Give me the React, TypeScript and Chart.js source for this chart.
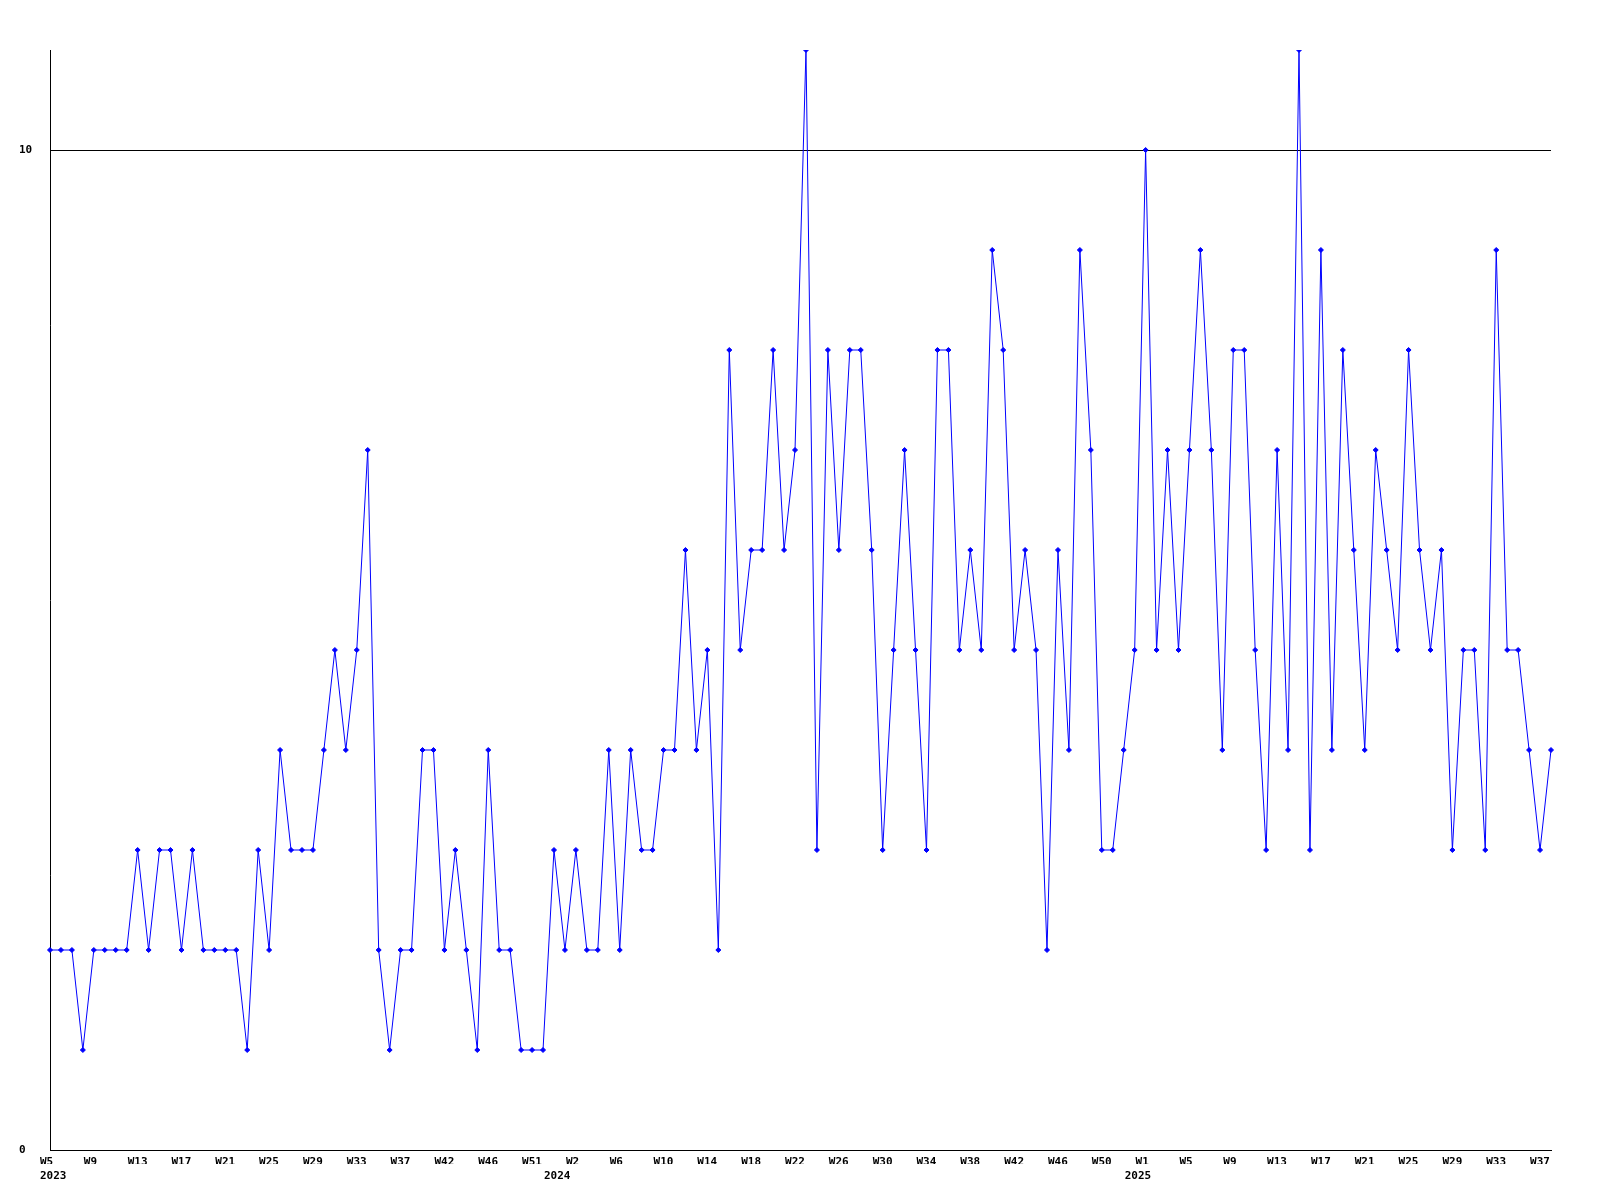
import React, { useEffect, useRef } from "react";
import { Chart, registerables } from "chart.js";

Chart.register(...registerables);

// Weekly values, 2023 W5 .. 2025 W38
const VALUES: number[] = [
  2, 2, 2, 1, 2, 2, 2, 2, 3, 2, 3, 3, 2, 3, 2, 2,
  2, 2, 1, 3, 2, 4, 3, 3, 3, 4, 5, 4, 5, 7, 2, 1,
  2, 2, 4, 4, 2, 3, 2, 1, 4, 2, 2, 1, 1, 1, 3, 2,
  3, 2, 2, 4, 2, 4, 3, 3, 4, 4, 6, 4, 5, 2, 8, 5,
  6, 6, 8, 6, 7, 11, 3, 8, 6, 8, 8, 6, 3, 5, 7, 5,
  3, 8, 8, 5, 6, 5, 9, 8, 5, 6, 5, 2, 6, 4, 9, 7,
  3, 3, 4, 5, 10, 5, 7, 5, 7, 9, 7, 4, 8, 8, 5, 3,
  7, 4, 11, 3, 9, 4, 8, 6, 4, 7, 6, 5, 8, 6, 5, 6,
  3, 5, 5, 3, 9, 5, 5, 4, 3, 4,
];

// Week tick labels, one every 4 points
const TICK_LABELS: string[] = [
  "W5", "W9", "W13", "W17", "W21", "W25", "W29", "W33", "W37", "W42", "W46", "W51",
  "W2", "W6", "W10", "W14", "W18", "W22", "W26", "W30", "W34", "W38", "W42", "W46", "W50",
  "W1", "W5", "W9", "W13", "W17", "W21", "W25", "W29", "W33", "W37",
];
const TICK_EVERY = 4;

const YEAR_LABELS: string[] = ["2023", "2024", "2025"];
const YEAR_POINT_INDEX: number[] = [0, 46, 99];

const Y_TICKS: number[] = [0, 10];

const CATEGORIES: string[] = VALUES.map((_, i) =>
  i % TICK_EVERY === 0 ? TICK_LABELS[i / TICK_EVERY] ?? "" : ""
);

const FONT = { family: "'DejaVu Sans Mono', 'Liberation Mono', monospace", size: 11, weight: "bold" as const };

export default function App() {
  const ref = useRef<HTMLCanvasElement | null>(null);

  useEffect(() => {
    if (!ref.current) return;
    const chart = new Chart(ref.current, {
      type: "line",
      data: {
        labels: CATEGORIES,
        datasets: [
          {
            data: VALUES,
            borderColor: "#0000ff",
            backgroundColor: "#0000ff",
            borderWidth: 1,
            pointStyle: "rectRot",
            pointRadius: 2.5,
            pointBorderWidth: 1,
            pointBorderColor: "#0000ff",
            pointBackgroundColor: "#0000ff",
            tension: 0,
            fill: false,
          },
        ],
      },
      options: {
        animation: false,
        responsive: false,
        devicePixelRatio: 1,
        layout: { padding: { left: 19, right: 49, top: 50, bottom: 0 } },
        plugins: {
          legend: { display: false },
          tooltip: { enabled: false },
          title: { display: false },
        },
        scales: {
          x: {
            type: "category",
            position: "bottom",
            weight: 0,
            offset: false,
            grid: { display: false, drawTicks: false },
            border: { display: true, color: "#000000", width: 1 },
            ticks: {
              autoSkip: false,
              maxRotation: 0,
              minRotation: 0,
              align: "start",
              labelOffset: -10,
              padding: 6,
              color: "#000000",
              font: FONT,
              callback: (_v: any, i: number) => CATEGORIES[i],
            },
            afterFit: (s: any) => {
              s.height = 14;
            },
          },
          x2: {
            type: "category",
            position: "bottom",
            weight: 1,
            offset: false,
            grid: { display: false, drawTicks: false },
            border: { display: false },
            ticks: {
              autoSkip: false,
              maxRotation: 0,
              minRotation: 0,
              align: "start",
              labelOffset: -10,
              padding: 6,
              color: "#000000",
              font: FONT,
              callback: (_v: any, i: number) => {
                const k = YEAR_POINT_INDEX.indexOf(i);
                return k >= 0 ? YEAR_LABELS[k] : "";
              },
            },
            afterFit: (s: any) => {
              s.height = 36;
            },
          },
          y: {
            type: "linear",
            position: "left",
            min: 0,
            max: 11,
            grid: { display: true, drawTicks: false, color: "#000000", lineWidth: 1 },
            border: { display: true, color: "#000000", width: 1 },
            ticks: {
              crossAlign: "far",
              padding: 0,
              color: "#000000",
              font: FONT,
            },
            afterBuildTicks: (s: any) => {
              s.ticks = Y_TICKS.map((v) => ({ value: v }));
            },
            afterFit: (s: any) => {
              s.width = 31;
            },
          },
        },
      },
    });
    return () => chart.destroy();
  }, []);

  return (
    <div style={{ position: "fixed", left: 0, top: 0, width: 1600, height: 1200, background: "#ffffff" }}>
      <canvas ref={ref} width={1600} height={1200} style={{ display: "block" }} />
    </div>
  );
}
